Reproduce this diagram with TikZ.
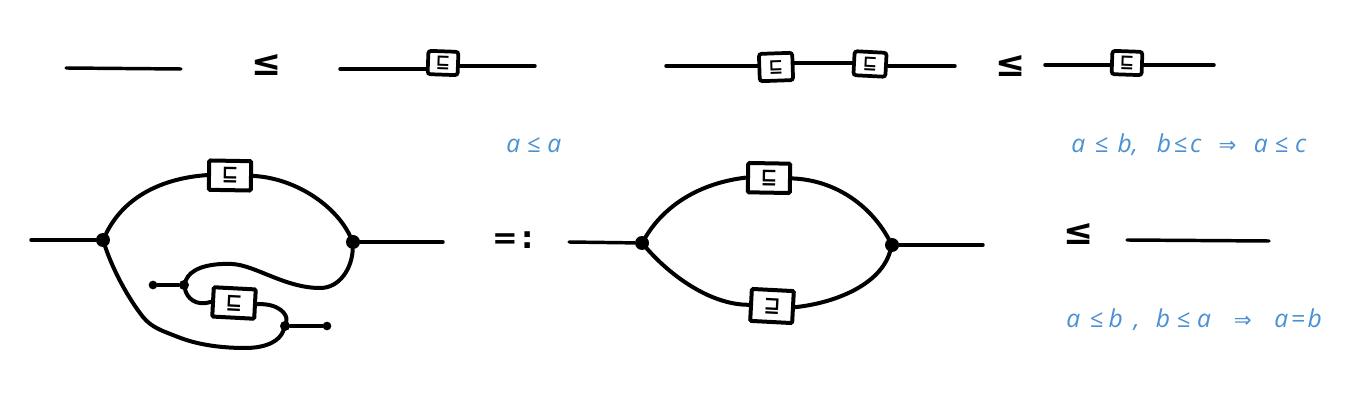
\documentclass[tikz,border=0pt]{standalone}
\usepackage{fontspec}
\setmainfont{Open Sans}
\newfontfamily\djv{DejaVu Sans}
\newfontfamily\djvb{DejaVu Sans Bold}
\definecolor{noteblue}{RGB}{74,144,210}
\newcommand{\arr}{{\djv\fontsize{16}{16}\selectfont ⇒}}
\tikzset{
  wire/.style={line width=3pt,line cap=round,black},
  flatwire/.style={line width=2.6pt,line cap=round,black},
  thinwire/.style={line width=2.3pt,line cap=round,black},
  dotj/.style={circle,fill=black,inner sep=0pt,minimum size=10.5pt},
  dott/.style={circle,fill=black,inner sep=0pt,minimum size=6.5pt},
  bigbox/.style={draw=black,fill=white,line width=3pt,rounded corners=1pt,inner sep=0pt,minimum width=31.5pt,minimum height=22pt,font=\djvb\fontsize{15}{15}\selectfont},
  smallbox/.style={draw=black,fill=white,line width=2.8pt,rounded corners=2pt,inner sep=0pt,minimum width=22.5pt,minimum height=17.5pt,font=\djvb\fontsize{13}{13}\selectfont},
  rel/.style={inner sep=0pt,font=\djvb\fontsize{27}{27}\selectfont},
  note/.style={inner sep=0pt,anchor=west,text=noteblue,font=\itshape\fontsize{18.5}{18.5}\selectfont},
}
\begin{document}
\begin{tikzpicture}[x=0.75pt,y=-0.75pt]
\useasboundingbox (0,0) rectangle (1366,402);
% top row, reflexivity
\coordinate (a1) at (66,68); \coordinate (a2) at (181,69);
\draw[flatwire] (a1) -- (a2);
\node[rel] (le1) at (267,65) {≤};
\coordinate (b1) at (340,69); \coordinate (b2) at (535,66);
\node[smallbox,rotate=-2] (sb1) at (443,63) {⊑};
\draw[flatwire] (b1) -- (sb1.west |- b1);
\draw[flatwire] (sb1.east |- b2) -- (b2);
% top row, transitivity
\coordinate (c1) at (666,66); \coordinate (c2) at (955,66);
\node[smallbox,rotate=2,minimum width=25pt,minimum height=20.5pt] (sb2) at (776,67) {⊑};
\node[smallbox,rotate=-3,minimum width=24pt,minimum height=18pt] (sb3) at (870,64) {⊑};
\draw[flatwire] (c1) -- (sb2.west |- c1);
\draw[flatwire] (sb2.east |- sb3.west) -- (sb3.west);
\draw[flatwire] (sb3.east |- c2) -- (c2);
\node[rel] (le2) at (1011,66) {≤};
\coordinate (d1) at (1045,65); \coordinate (d2) at (1214,65);
\node[smallbox,rotate=-2] (sb4) at (1127,63) {⊑};
\draw[flatwire] (d1) -- (sb4.west |- d1);
\draw[flatwire] (sb4.east |- d2) -- (d2);
% blue notes
\node[note] (n1) at (506,145) {a\hspace{5pt}≤\hspace{5pt}a};
\node[note] (n2) at (1071,145) {a\hspace{7pt}≤\hspace{7pt}b,\hspace{14pt}b\hspace{2pt}≤\hspace{2pt}c\hspace{13pt}\arr\hspace{13pt}a\hspace{5pt}≤\hspace{5pt}c};
\node[note] (n3) at (1066,320) {a\hspace{7pt}≤\hspace{4pt}b\hspace{8pt},\hspace{12pt}b\hspace{5pt}≤\hspace{5pt}a\hspace{17pt}\arr\hspace{17pt}a\hspace{2pt}=\hspace{2pt}b};
% left big diagram
\node[dotj] (L) at (103,240) {};
\node[dotj] (R) at (353,242) {};
\coordinate (e1) at (31,240); \coordinate (e2) at (443,242);
\draw[flatwire] (e1) -- (L);
\draw[flatwire] (R) -- (e2);
\node[bigbox,rotate=-1] (bb1) at (230,175.5) {⊑};
\node[bigbox,rotate=-3] (bb2) at (234,303) {⊑};
\node[dott] (T1) at (153,285) {};
\node[dott] (T2) at (327,326) {};
\node[dotj,minimum size=7.5pt] (J1) at (184,285) {};
\node[dotj,minimum size=7.5pt] (J2) at (285,326) {};
\draw[wire] (L) .. controls (125,195) and (165,178) .. (bb1.west);
\draw[wire] (bb1.east) .. controls (295,178) and (335,205) .. (R);
\draw[wire] (L) .. controls (113,270) and (128,298) .. (143,317)
   .. controls (152,328) and (163,331) .. (178,337)
   .. controls (198,345) and (222,348) .. (245,348)
   .. controls (268,348) and (280,340) .. (J2);
\draw[wire] (J2) .. controls (288,314) and (278,303) .. (bb2.east);
\draw[thinwire] (J2) -- (T2);
\draw[thinwire] (T1) -- (J1);
\draw[wire] (J1) .. controls (187,297) and (195,307) .. (bb2.west);
\draw[wire] (J1) .. controls (190,270) and (205,263) .. (232,264)
   .. controls (255,265) and (285,288) .. (320,288)
   .. controls (340,288) and (352,268) .. (R);
% equals
\node[inner sep=0pt,font=\djvb\fontsize{23}{23}\selectfont] (eq) at (513,240) {=\hspace{3pt}:};
% middle diagram
\node[dotj] (M) at (642,243) {};
\node[dotj] (N) at (892,245) {};
\coordinate (f1) at (569,242); \coordinate (f2) at (983,245);
\draw[flatwire] (f1) -- (M);
\draw[flatwire] (N) -- (f2);
\node[bigbox,rotate=-1] (bb3) at (769,178) {⊑};
\node[bigbox,rotate=-3,minimum height=24pt] (bb4) at (772,306) {⊒};
\draw[wire] (M) .. controls (665,205) and (700,183) .. (bb3.west);
\draw[wire] (bb3.east) .. controls (835,180) and (870,205) .. (N);
\draw[wire] (M) .. controls (670,275) and (710,305) .. (bb4.west);
\draw[wire] (bb4.east) .. controls (835,303) and (880,285) .. (N);
% right relation
\node[rel] (le3) at (1079,234) {≤};
\coordinate (g1) at (1127,240); \coordinate (g2) at (1269,241);
\draw[flatwire] (g1) -- (g2);
\end{tikzpicture}
\end{document}
